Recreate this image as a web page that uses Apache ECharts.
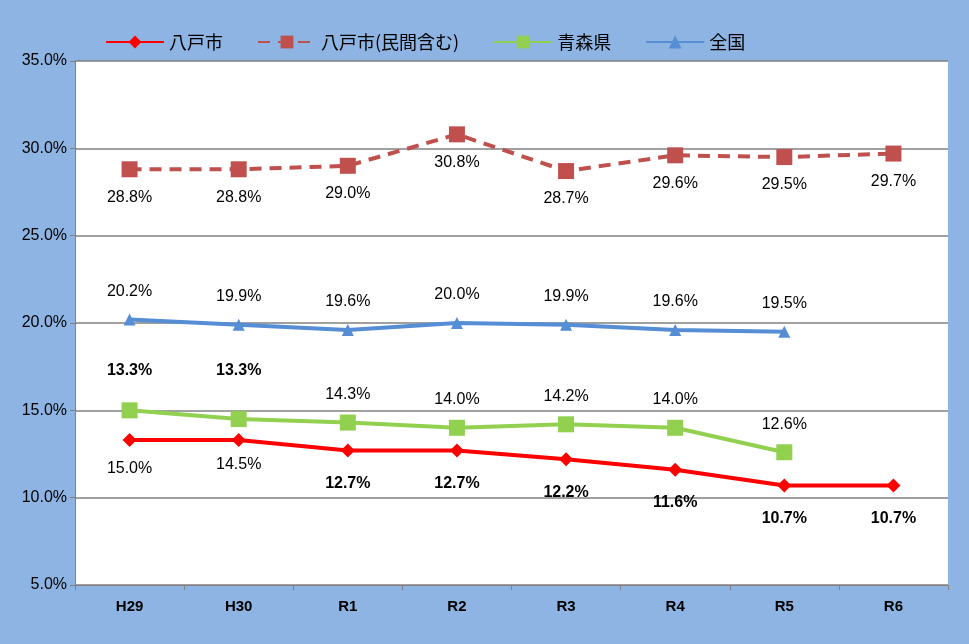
<!DOCTYPE html>
<html><head><meta charset="utf-8">
<script src="https://cdn.jsdelivr.net/npm/echarts@6/dist/echarts.min.js"></script>
<style>html,body{margin:0;padding:0;background:#8DB4E2}#c{width:969px;height:644px}</style>
</head><body><div id="c"></div>
<script>
const categories=['H29','H30','R1','R2','R3','R4','R5','R6'];
const hachinohe=[13.3,13.3,12.7,12.7,12.2,11.6,10.7,10.7];
const hachinoheMin=[28.8,28.8,29.0,30.8,28.7,29.6,29.5,29.7];
const aomori=[15.0,14.5,14.3,14.0,14.2,14.0,12.6,null];
const zenkoku=[20.2,19.9,19.6,20.0,19.9,19.6,19.5,null];
const yTicks={min:5,max:35,interval:5};
const fmt=p=>p.value==null?'':p.value.toFixed(1)+'%';
function items(arr,posFn,distFn){return arr.map((v,i)=>({value:v,label:{position:posFn(i),distance:distFn?distFn(i):14}}));}
const lbl={show:true,formatter:fmt,color:'#000',fontSize:16,fontFamily:'Liberation Sans'};
const chart=echarts.init(document.getElementById('c'));
chart.setOption({
 backgroundColor:'#8DB4E2',
 animation:false,
 legend:{top:28,left:100,itemWidth:58,itemHeight:16,itemGap:34,textStyle:{fontSize:18,color:'#000',fontFamily:'Noto Sans CJK JP'},
  data:['八戸市','八戸市(民間含む)','青森県','全国']},
 grid:{left:75,right:21,top:61,bottom:59,backgroundColor:'#fff',show:true,borderWidth:0},
 xAxis:{type:'category',data:categories,boundaryGap:true,
  axisLine:{lineStyle:{color:'#808080'}},axisTick:{show:true,interval:0,lineStyle:{color:'#808080'}},
  axisLabel:{color:'#000',fontSize:15,fontWeight:'bold',fontFamily:'Liberation Sans',margin:14}},
 yAxis:{type:'value',min:yTicks.min,max:yTicks.max,interval:yTicks.interval,
  axisLine:{show:true,lineStyle:{color:'#808080'}},axisTick:{show:true,lineStyle:{color:'#808080'}},
  splitLine:{lineStyle:{color:'#808080',width:1.5}},
  axisLabel:{color:'#000',fontSize:16,fontFamily:'Liberation Sans',formatter:v=>v.toFixed(1)+'%'}},
 series:[
  {name:'八戸市',type:'line',data:items(hachinohe,i=>i<2?'top':'bottom',i=>i<2?54:18),color:'#FF0000',
   lineStyle:{width:4},symbol:'diamond',symbolSize:14,
   label:Object.assign({},lbl,{fontWeight:'bold'})},
  {name:'八戸市(民間含む)',type:'line',data:items(hachinoheMin,()=>'bottom',()=>12),color:'#C0504D',
   lineStyle:{width:4,type:[12,8]},symbol:'rect',symbolSize:16,label:lbl},
  {name:'青森県',type:'line',data:items(aomori,i=>i<2?'bottom':'top',i=>i<2?(i==0?42:30):12),color:'#92D050',
   lineStyle:{width:4},symbol:'rect',symbolSize:16,label:lbl},
  {name:'全国',type:'line',data:items(zenkoku,()=>'top',()=>14),color:'#558ED5',
   lineStyle:{width:4},symbol:'triangle',symbolSize:12,label:lbl}
 ]
});
</script></body></html>
